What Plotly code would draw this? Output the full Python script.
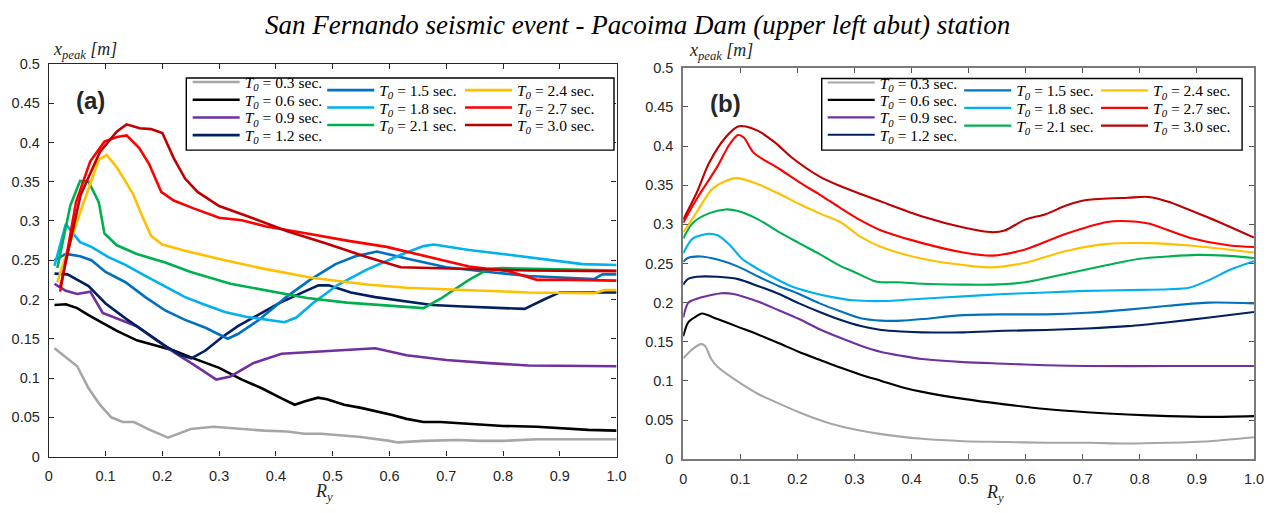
import plotly.graph_objects as go

W, H = 1288, 513

# ---------------- data: panel (a) ----------------
T0_LABELS = ["0.3", "0.6", "0.9", "1.2", "1.5", "1.8", "2.1", "2.4", "2.7", "3.0"]
COLORS = ["#A6A6A6", "#000000", "#7030A0", "#002060", "#0070C0",
          "#00B0F0", "#00B050", "#FFC000", "#FF0000", "#C00000"]

A_T03_X = [0.01, 0.05, 0.07, 0.09, 0.11, 0.13, 0.15, 0.175, 0.21, 0.25, 0.29, 0.35, 0.38, 0.42, 0.45, 0.48, 0.51, 0.55, 0.60, 0.615, 0.66, 0.72, 0.76, 0.80, 0.86, 0.92, 1.0]
A_T03_Y = [0.138, 0.115, 0.087, 0.066, 0.050, 0.044, 0.044, 0.035, 0.024, 0.035, 0.038, 0.035, 0.033, 0.032, 0.029, 0.029, 0.027, 0.025, 0.020, 0.018, 0.020, 0.021, 0.020, 0.020, 0.022, 0.022, 0.022]
A_T06_X = [0.01, 0.03, 0.05, 0.07, 0.10, 0.12, 0.155, 0.19, 0.22, 0.255, 0.30, 0.34, 0.375, 0.41, 0.433, 0.45, 0.474, 0.49, 0.52, 0.55, 0.575, 0.605, 0.63, 0.66, 0.69, 0.74, 0.80, 0.86, 0.92, 0.95, 1.0]
A_T06_Y = [0.193, 0.194, 0.189, 0.180, 0.168, 0.160, 0.148, 0.141, 0.135, 0.125, 0.113, 0.098, 0.087, 0.074, 0.066, 0.070, 0.075, 0.073, 0.066, 0.062, 0.058, 0.053, 0.048, 0.044, 0.044, 0.042, 0.039, 0.038, 0.035, 0.034, 0.033]
A_T09_X = [0.01, 0.03, 0.05, 0.073, 0.095, 0.127, 0.155, 0.19, 0.22, 0.255, 0.295, 0.32, 0.36, 0.41, 0.455, 0.53, 0.575, 0.63, 0.70, 0.775, 0.845, 1.0]
A_T09_Y = [0.220, 0.211, 0.207, 0.210, 0.183, 0.174, 0.166, 0.148, 0.133, 0.117, 0.098, 0.102, 0.119, 0.131, 0.133, 0.136, 0.138, 0.129, 0.123, 0.119, 0.116, 0.115]
A_T12_X = [0.01, 0.033, 0.07, 0.10, 0.135, 0.17, 0.205, 0.233, 0.251, 0.276, 0.305, 0.333, 0.37, 0.405, 0.447, 0.475, 0.493, 0.532, 0.575, 0.625, 0.675, 0.73, 0.80, 0.838, 0.875, 0.90, 0.95, 1.0]
A_T12_Y = [0.233, 0.232, 0.217, 0.195, 0.176, 0.158, 0.141, 0.129, 0.125, 0.135, 0.152, 0.166, 0.181, 0.195, 0.209, 0.218, 0.218, 0.209, 0.203, 0.198, 0.193, 0.191, 0.189, 0.188, 0.201, 0.209, 0.209, 0.209]
A_T15_X = [0.01, 0.03, 0.055, 0.075, 0.10, 0.135, 0.17, 0.205, 0.24, 0.276, 0.315, 0.333, 0.37, 0.418, 0.46, 0.505, 0.54, 0.578, 0.632, 0.70, 0.775, 0.845, 0.96, 0.975, 1.0]
A_T15_Y = [0.250, 0.258, 0.255, 0.250, 0.235, 0.222, 0.203, 0.186, 0.174, 0.164, 0.150, 0.156, 0.174, 0.203, 0.225, 0.245, 0.255, 0.261, 0.252, 0.241, 0.235, 0.230, 0.226, 0.232, 0.232]
A_T18_X = [0.01, 0.03, 0.055, 0.075, 0.105, 0.135, 0.17, 0.205, 0.24, 0.276, 0.31, 0.347, 0.383, 0.415, 0.436, 0.468, 0.51, 0.56, 0.62, 0.66, 0.678, 0.74, 0.81, 0.88, 0.94, 1.0]
A_T18_Y = [0.243, 0.296, 0.273, 0.267, 0.254, 0.244, 0.230, 0.217, 0.203, 0.193, 0.184, 0.178, 0.174, 0.171, 0.177, 0.197, 0.219, 0.238, 0.257, 0.268, 0.270, 0.263, 0.257, 0.251, 0.245, 0.244]
A_T21_X = [0.015, 0.038, 0.055, 0.07, 0.088, 0.098, 0.12, 0.155, 0.205, 0.25, 0.32, 0.383, 0.455, 0.525, 0.595, 0.66, 0.69, 0.74, 0.775, 0.80, 0.92, 1.0]
A_T21_Y = [0.240, 0.320, 0.351, 0.350, 0.324, 0.284, 0.269, 0.258, 0.247, 0.235, 0.220, 0.212, 0.202, 0.196, 0.192, 0.189, 0.201, 0.225, 0.239, 0.240, 0.238, 0.237]
A_T24_X = [0.015, 0.05, 0.088, 0.102, 0.12, 0.148, 0.162, 0.18, 0.20, 0.24, 0.31, 0.38, 0.46, 0.56, 0.63, 0.70, 0.775, 0.845, 0.96, 0.98, 1.0]
A_T24_Y = [0.222, 0.300, 0.378, 0.384, 0.368, 0.335, 0.310, 0.281, 0.270, 0.262, 0.250, 0.239, 0.228, 0.219, 0.215, 0.213, 0.211, 0.209, 0.208, 0.212, 0.212]
A_T27_X = [0.02, 0.048, 0.073, 0.098, 0.12, 0.137, 0.159, 0.177, 0.198, 0.22, 0.255, 0.30, 0.34, 0.383, 0.455, 0.525, 0.595, 0.67, 0.74, 0.81, 0.86, 0.92, 1.0]
A_T27_Y = [0.210, 0.324, 0.376, 0.401, 0.407, 0.409, 0.393, 0.372, 0.337, 0.326, 0.316, 0.304, 0.301, 0.293, 0.284, 0.275, 0.267, 0.254, 0.242, 0.236, 0.225, 0.225, 0.224]
A_T30_X = [0.02, 0.056, 0.09, 0.12, 0.137, 0.16, 0.18, 0.20, 0.22, 0.24, 0.262, 0.30, 0.35, 0.42, 0.49, 0.56, 0.62, 0.67, 0.775, 0.845, 1.0]
A_T30_Y = [0.215, 0.333, 0.388, 0.414, 0.423, 0.418, 0.417, 0.412, 0.380, 0.354, 0.337, 0.319, 0.306, 0.287, 0.271, 0.254, 0.241, 0.240, 0.238, 0.237, 0.236]

# ---------------- data: panel (b) ----------------
B_T03_X = [0, 0.017, 0.031, 0.038, 0.049, 0.06, 0.096, 0.132, 0.168, 0.203, 0.239, 0.275, 0.347, 0.419, 0.491, 0.563, 0.635, 0.707, 0.779, 0.85, 0.922, 1.0]
B_T03_Y = [0.129, 0.141, 0.147, 0.145, 0.128, 0.118, 0.099, 0.083, 0.071, 0.060, 0.050, 0.042, 0.032, 0.026, 0.023, 0.022, 0.021, 0.021, 0.020, 0.021, 0.023, 0.028]
B_T06_X = [0, 0.009, 0.024, 0.033, 0.06, 0.096, 0.132, 0.168, 0.203, 0.239, 0.275, 0.311, 0.347, 0.383, 0.419, 0.491, 0.563, 0.635, 0.707, 0.779, 0.85, 0.922, 1.0]
B_T06_Y = [0.157, 0.175, 0.183, 0.186, 0.179, 0.169, 0.159, 0.148, 0.137, 0.127, 0.117, 0.108, 0.100, 0.092, 0.086, 0.077, 0.070, 0.064, 0.060, 0.057, 0.055, 0.054, 0.055]
B_T09_X = [0, 0.009, 0.024, 0.045, 0.067, 0.088, 0.132, 0.168, 0.203, 0.239, 0.275, 0.311, 0.347, 0.383, 0.419, 0.491, 0.563, 0.635, 0.707, 0.85, 1.0]
B_T09_Y = [0.181, 0.200, 0.205, 0.209, 0.212, 0.211, 0.201, 0.190, 0.179, 0.166, 0.155, 0.145, 0.137, 0.132, 0.128, 0.124, 0.122, 0.120, 0.119, 0.119, 0.119]
B_T12_X = [0, 0.008, 0.024, 0.06, 0.096, 0.132, 0.168, 0.203, 0.239, 0.275, 0.311, 0.347, 0.383, 0.419, 0.491, 0.563, 0.635, 0.707, 0.779, 0.85, 0.922, 1.0]
B_T12_Y = [0.223, 0.230, 0.233, 0.233, 0.230, 0.221, 0.211, 0.199, 0.188, 0.178, 0.170, 0.165, 0.163, 0.162, 0.162, 0.164, 0.165, 0.167, 0.170, 0.175, 0.181, 0.188]
B_T15_X = [0, 0.008, 0.03, 0.06, 0.096, 0.132, 0.168, 0.203, 0.239, 0.275, 0.311, 0.347, 0.383, 0.419, 0.491, 0.563, 0.635, 0.707, 0.779, 0.85, 0.922, 1.0]
B_T15_Y = [0.252, 0.257, 0.259, 0.255, 0.246, 0.233, 0.221, 0.211, 0.199, 0.189, 0.180, 0.177, 0.177, 0.179, 0.184, 0.185, 0.185, 0.187, 0.191, 0.196, 0.200, 0.199]
B_T18_X = [0, 0.017, 0.045, 0.06, 0.081, 0.103, 0.117, 0.153, 0.189, 0.225, 0.261, 0.297, 0.347, 0.419, 0.491, 0.563, 0.635, 0.707, 0.779, 0.85, 0.886, 0.922, 0.958, 1.0]
B_T18_Y = [0.263, 0.282, 0.288, 0.286, 0.274, 0.256, 0.249, 0.234, 0.221, 0.213, 0.207, 0.203, 0.202, 0.205, 0.208, 0.211, 0.213, 0.215, 0.216, 0.217, 0.219, 0.229, 0.242, 0.253]
B_T21_X = [0, 0.017, 0.045, 0.074, 0.096, 0.132, 0.168, 0.203, 0.239, 0.275, 0.297, 0.333, 0.347, 0.376, 0.419, 0.491, 0.541, 0.599, 0.671, 0.743, 0.80, 0.85, 0.90, 0.95, 1.0]
B_T21_Y = [0.282, 0.302, 0.314, 0.319, 0.317, 0.306, 0.290, 0.276, 0.262, 0.247, 0.240, 0.228, 0.226, 0.226, 0.224, 0.223, 0.223, 0.226, 0.237, 0.248, 0.256, 0.259, 0.261, 0.260, 0.257]
B_T24_X = [0, 0.024, 0.052, 0.092, 0.132, 0.168, 0.203, 0.239, 0.275, 0.311, 0.347, 0.419, 0.491, 0.541, 0.599, 0.671, 0.743, 0.815, 0.887, 1.0]
B_T24_Y = [0.290, 0.316, 0.346, 0.359, 0.351, 0.339, 0.326, 0.314, 0.303, 0.284, 0.271, 0.256, 0.248, 0.245, 0.251, 0.266, 0.275, 0.276, 0.273, 0.264]
B_T27_X = [0, 0.024, 0.06, 0.081, 0.096, 0.106, 0.124, 0.168, 0.203, 0.239, 0.275, 0.311, 0.347, 0.419, 0.491, 0.541, 0.599, 0.671, 0.743, 0.779, 0.815, 0.887, 0.958, 1.0]
B_T27_Y = [0.302, 0.333, 0.374, 0.402, 0.414, 0.411, 0.391, 0.371, 0.354, 0.338, 0.321, 0.305, 0.292, 0.276, 0.264, 0.260, 0.268, 0.288, 0.303, 0.304, 0.301, 0.283, 0.273, 0.271]
B_T30_X = [0, 0.024, 0.045, 0.074, 0.096, 0.11, 0.132, 0.16, 0.189, 0.239, 0.275, 0.347, 0.419, 0.491, 0.541, 0.563, 0.599, 0.635, 0.671, 0.707, 0.779, 0.815, 0.85, 0.922, 1.0]
B_T30_Y = [0.306, 0.341, 0.378, 0.411, 0.425, 0.425, 0.419, 0.405, 0.386, 0.361, 0.349, 0.329, 0.310, 0.296, 0.290, 0.292, 0.306, 0.313, 0.324, 0.331, 0.334, 0.335, 0.329, 0.308, 0.283]

X_TICKVALS = [0, 0.1, 0.2, 0.3, 0.4, 0.5, 0.6, 0.7, 0.8, 0.9, 1.0]
X_TICKTEXT = ["0", "0.1", "0.2", "0.3", "0.4", "0.5", "0.6", "0.7", "0.8", "0.9", "1.0"]
Y_TICKVALS = [0, 0.05, 0.1, 0.15, 0.2, 0.25, 0.3, 0.35, 0.4, 0.45, 0.5]
Y_TICKTEXT = ["0", "0.05", "0.1", "0.15", "0.2", "0.25", "0.3", "0.35", "0.4", "0.45", "0.5"]

SERIES_A = [(A_T03_X, A_T03_Y), (A_T06_X, A_T06_Y), (A_T09_X, A_T09_Y), (A_T12_X, A_T12_Y),
            (A_T15_X, A_T15_Y), (A_T18_X, A_T18_Y), (A_T21_X, A_T21_Y), (A_T24_X, A_T24_Y),
            (A_T27_X, A_T27_Y), (A_T30_X, A_T30_Y)]
SERIES_B = [(B_T03_X, B_T03_Y), (B_T06_X, B_T06_Y), (B_T09_X, B_T09_Y), (B_T12_X, B_T12_Y),
            (B_T15_X, B_T15_Y), (B_T18_X, B_T18_Y), (B_T21_X, B_T21_Y), (B_T24_X, B_T24_Y),
            (B_T27_X, B_T27_Y), (B_T30_X, B_T30_Y)]

# ---------------- layout helpers (pixel positions) ----------------
def px(x):
    return x / W

def py(y):
    return 1 - y / H

# legend entry anchors: (line start x, row centre y) in pixels
LEG_A_POS = [(190.7, 82.3), (190.7, 100.6), (190.7, 118.9), (190.7, 137.2),
             (326.7, 90.7), (326.7, 108.7), (326.7, 126.7),
             (466.0, 90.7), (466.0, 108.7), (466.0, 126.7)]
LEG_B_POS = [(832.7, 82.8), (832.7, 100.8), (832.7, 118.8), (832.7, 136.8),
             (970.7, 91.0), (970.7, 109.0), (970.7, 127.3),
             (1109.0, 91.0), (1109.0, 109.0), (1109.0, 127.3)]
LEG_DY = -5.5  # plotly places the legend row slightly below its anchor

fig = go.Figure()
layout_legends = {}

def legend_key(i):
    return "legend" if i == 1 else "legend%d" % i

for panel, series, positions, xa, ya, lw, shape in [
        (0, SERIES_A, LEG_A_POS, "x", "y", 2.6, "linear"),
        (1, SERIES_B, LEG_B_POS, "x2", "y2", 2.1, "spline")]:
    for k, ((xs, ys), lab, col, pos) in enumerate(zip(series, T0_LABELS, COLORS, positions)):
        idx = panel * 10 + k + 1
        lk = legend_key(idx)
        fig.add_trace(go.Scatter(
            x=xs, y=ys, mode="lines", xaxis=xa, yaxis=ya,
            line=dict(color=col, width=lw, shape=shape, smoothing=0.8 if shape == "spline" else None),
            name="<i>T<sub>0</sub></i> = %s sec." % lab,
            legend=lk, showlegend=True, hoverinfo="skip"))
        layout_legends[lk] = dict(
            x=px(pos[0] - 5), y=py(pos[1] + LEG_DY), xanchor="left", yanchor="middle",
            bgcolor="rgba(0,0,0,0)", borderwidth=0, itemwidth=47,
            font=dict(family="Liberation Serif", size=15.5, color="black"),
            tracegroupgap=0, itemclick=False, itemdoubleclick=False)

axis_common = dict(range=[0, 1], showgrid=False, zeroline=False, showline=True,
                   ticks="inside", ticklen=5, mirror="ticks",
                   tickfont=dict(family="Liberation Sans", size=14.5, color="#262626"))

fig.update_layout(
    width=W, height=H, margin=dict(l=0, r=0, t=0, b=0),
    paper_bgcolor="white", plot_bgcolor="white",
    xaxis=dict(axis_common, domain=[px(45.3), px(619.3)], anchor="y",
               tickvals=X_TICKVALS, ticktext=X_TICKTEXT, ticklabelstandoff=6,
               linecolor="#262626", linewidth=1.2, tickcolor="#262626"),
    yaxis=dict(axis_common, domain=[py(463), py(57.7)], anchor="x", range=[0, 0.5],
               tickvals=Y_TICKVALS, ticktext=Y_TICKTEXT, ticklabelstandoff=5,
               linecolor="#262626", linewidth=1.2, tickcolor="#262626"),
    xaxis2=dict(axis_common, domain=[px(686.7), px(1263.7)], anchor="y2",
                tickvals=X_TICKVALS, ticktext=X_TICKTEXT, ticklabelstandoff=6,
                linecolor="#7a7a7a", linewidth=1.8, tickcolor="#555555"),
    yaxis2=dict(axis_common, domain=[py(465.7), py(61.7)], anchor="x2", range=[0, 0.5],
                tickvals=Y_TICKVALS, ticktext=Y_TICKTEXT, ticklabelstandoff=5,
                linecolor="#7a7a7a", linewidth=1.8, tickcolor="#555555"),
    **layout_legends,
)

# legend frames
fig.add_shape(type="rect", xref="paper", yref="paper",
              x0=px(184.3), x1=px(616.7), y0=py(146.7), y1=py(72.3),
              line=dict(color="black", width=1.4), fillcolor="white", layer="above")
fig.add_shape(type="rect", xref="paper", yref="paper",
              x0=px(826.7), x1=px(1251.7), y0=py(146.7), y1=py(72.7),
              line=dict(color="black", width=1.4), fillcolor="white", layer="above")

serif = "Liberation Serif"
ann = [
    dict(text="<i>San Fernando seismic event - Pacoima Dam (upper left abut) station</i>",
         x=px(640), y=py(18), font=dict(family=serif, size=27, color="black"),
         xanchor="center", yanchor="middle"),
    dict(text="<i>x<sub>peak</sub> [m]</i>", x=px(48), y=py(44),
         font=dict(family=serif, size=18, color="#262626"), xanchor="left", yanchor="middle"),
    dict(text="<i>x<sub>peak</sub> [m]</i>", x=px(690), y=py(45),
         font=dict(family=serif, size=18, color="#262626"), xanchor="left", yanchor="middle"),
    dict(text="<i>R<sub>y</sub></i>", x=px(324), y=py(500),
         font=dict(family=serif, size=18, color="#262626"), xanchor="center", yanchor="middle"),
    dict(text="<i>R<sub>y</sub></i>", x=px(1002), y=py(501),
         font=dict(family=serif, size=18, color="#262626"), xanchor="center", yanchor="middle"),
    dict(text="<b>(a)</b>", x=px(87), y=py(95),
         font=dict(family="Liberation Sans", size=24, color="#262626"), xanchor="center", yanchor="middle"),
    dict(text="<b>(b)</b>", x=px(729), y=py(99),
         font=dict(family="Liberation Sans", size=24, color="#262626"), xanchor="center", yanchor="middle"),
]
for a in ann:
    a.update(xref="paper", yref="paper", showarrow=False)
    fig.add_annotation(**a)

fig.write_html("out.html")
